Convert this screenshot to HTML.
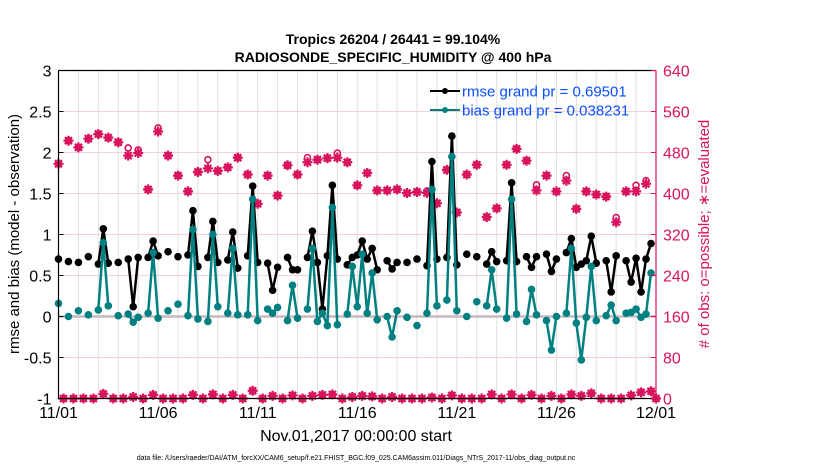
<!DOCTYPE html>
<html><head><meta charset="utf-8"><style>
html,body{margin:0;padding:0;background:#fff;}
svg{display:block;font-family:"Liberation Sans",Arial,sans-serif;}
</style></head><body>
<svg id="chart" width="830" height="470" viewBox="0 0 830 470" xmlns="http://www.w3.org/2000/svg">
<g id="grid"></g>
<g id="marks"></g>
<g id="axes"></g>
<text x="393" y="44" text-anchor="middle" font-size="14" font-weight="bold">Tropics 26204 / 26441 = 99.104%</text>
<text x="393" y="62" text-anchor="middle" font-size="14" font-weight="bold">RADIOSONDE_SPECIFIC_HUMIDITY @ 400 hPa</text>
<text transform="translate(19,234) rotate(-90)" text-anchor="middle" font-size="15">rmse and bias (model - observation)</text>
<text transform="translate(709,234) rotate(-90)" text-anchor="middle" font-size="15" fill="#d9135d"># of obs: o=possible; ∗=evaluated</text>
<text x="356" y="441" text-anchor="middle" font-size="16">Nov.01,2017 00:00:00 start</text>
<text x="356" y="460" text-anchor="middle" font-size="7">data file: /Users/raeder/DAI/ATM_forcXX/CAM6_setup/f.e21.FHIST_BGC.f09_025.CAM6assim.011/Diags_NTrS_2017-11/obs_diag_output.nc</text>
<g id="legend">
<line x1="430" y1="91" x2="460" y2="91" stroke="#000" stroke-width="2"/>
<circle cx="445" cy="91" r="3" fill="#000"/>
<text x="462" y="96.5" font-size="15" fill="#0a50ff">rmse grand pr = 0.69501</text>
<line x1="430" y1="110" x2="460" y2="110" stroke="#008080" stroke-width="2"/>
<circle cx="445" cy="110" r="3" fill="#008080"/>
<text x="462" y="115.5" font-size="15" fill="#0a50ff">bias grand pr = 0.038231</text>
</g>
</svg>
<script>
var n=null;
var yTicks=[-1,-0.5,0,0.5,1,1.5,2,2.5,3];
var yTickLabels=["-1","-0.5","0","0.5","1","1.5","2","2.5","3"];
var y2Ticks=[0,80,160,240,320,400,480,560,640];
var xTickLabels=["11/01","11/06","11/11","11/16","11/21","11/26","12/01"];
var rmse=[.70,n,.67,n,.66,n,.73,n,.64,1.07,.65,n,.66,n,.70,.12,.72,n,.72,.92,.74,n,.79,n,.73,n,.75,1.29,.61,n,.72,1.16,.66,n,.69,1.03,.59,n,.74,1.59,.66,n,.65,.32,.60,n,.72,.57,.57,n,.72,1.04,.66,.09,.74,1.60,.70,n,.63,.72,.75,.92,.70,.83,.57,n,.68,.58,.66,n,.66,n,.70,n,.62,1.89,.70,n,.72,2.20,.63,n,.76,n,.73,n,.64,.79,.67,n,.68,1.63,.67,n,.73,.60,.73,n,.76,.55,.70,n,.78,.95,.60,.64,.68,.98,.65,n,.68,.30,.74,n,.68,.42,.71,.30,.70,.89,n];
var bias=[.16,n,.00,n,.07,n,.02,n,.08,.90,.13,n,.01,n,.03,-.07,-.01,n,.04,.78,-.02,n,.07,n,.15,n,.01,1.06,-.03,n,-.06,1.0,.12,n,.04,.83,.02,n,.02,1.43,-.05,n,.09,.04,.11,n,-.05,.38,-.02,n,.09,.83,-.06,.04,-.11,1.33,-.10,n,.03,.61,.12,.76,.04,.53,-.04,n,0,-.25,.07,n,-.01,n,-.11,n,.04,1.55,.13,n,.20,1.95,.07,n,0,n,.18,n,.13,.57,.09,n,-.02,1.43,.03,n,-.06,.33,.02,n,-.05,-.41,0,n,.04,.83,-.08,-.53,-.01,.61,-.05,n,.01,.14,-.05,n,.04,.05,.09,-.01,.03,.53,n];
var obsEval=[458,0,503,0,490,0,507,0,516,9,509,0,500,0,474,3,479,0,408,7,521,0,474,0,435,0,404,7,442,0,449,8,444,0,451,7,470,0,437,15,380,0,435,5,396,0,455,6,437,0,461,5,466,7,469,8,470,0,461,3,416,5,440,4,406,0,406,3,408,0,401,0,403,0,401,2,381,0,446,6,363,0,437,0,456,0,354,8,371,0,456,8,487,0,464,7,406,0,435,5,404,0,425,8,370,5,404,10,398,0,394,0,344,0,404,6,404,12,419,14,0];
var obsPoss=[458,0,503,0,490,0,507,0,516,9,509,0,500,0,489,3,485,0,408,7,528,0,474,0,435,0,404,7,442,0,466,8,444,0,451,7,470,0,437,15,380,0,435,5,396,0,455,6,437,0,470,5,466,7,469,8,479,0,461,3,416,5,440,4,406,0,406,3,408,0,401,0,403,0,405,2,381,0,446,6,363,0,437,0,456,0,354,8,371,0,456,8,487,0,464,7,417,0,435,5,404,0,435,8,370,5,404,10,398,0,394,0,353,0,404,6,416,12,425,14,0];

var L=58.5,R=656,T=70.5,B=398.5,NS=120;
var NS_="http://www.w3.org/2000/svg";
function x(i){return L+i*(R-L)/NS;}
function y(v){return B-(v+1)*(B-T)/4;}
function y2(c){return B-c*(B-T)/640;}
function mk(tag,attrs,parent){var e=document.createElementNS(NS_,tag);for(var k in attrs)e.setAttribute(k,attrs[k]);parent.appendChild(e);return e;}
var grid=document.getElementById('grid'),marks=document.getElementById('marks'),axes=document.getElementById('axes');
for(var d=1;d<30;d++){var g=mk('line',{x1:x(d*4),x2:x(d*4),y1:T,y2:B,stroke:'#e0e0e0','stroke-width':1},grid);

}
for(var k=1;k<y2Ticks.length-1;k++){var g2=mk('line',{x1:L,x2:R,y1:y2(y2Ticks[k]),y2:y2(y2Ticks[k]),stroke:'#f6cfdc','stroke-width':1},grid);

}
var z=mk('line',{x1:L,x2:R,y1:y(0),y2:y(0),stroke:'#c8b8bf','stroke-width':2.5},grid);


function drawLine(arr,color,name){
  var d='';for(var i=0;i<arr.length;i++){if(arr[i]===null)continue;var cmd=(i>0&&arr[i-1]!==null)?'L':'M';d+=cmd+x(i).toFixed(1)+','+y(arr[i]).toFixed(1);}
  var p=mk('path',{d:d,fill:'none',stroke:color,'stroke-width':2.5,'stroke-linejoin':'round'},marks);
  
  
  for(var j=0;j<arr.length;j++){if(arr[j]===null)continue;
    var c=mk('circle',{cx:x(j),cy:y(arr[j]),r:3.8,fill:color},marks);
    
    }
}
var pk='#d9135d';
for(var i=0;i<obsEval.length;i++){
  if(obsPoss[i]!==null){var o=mk('circle',{cx:x(i),cy:y2(obsPoss[i]),r:3,fill:'none',stroke:pk,'stroke-width':1.6},marks);
  
  }
  if(obsEval[i]!==null){var cx=x(i),cy=y2(obsEval[i]);var s='';
    for(var a=0;a<4;a++){var an=a*Math.PI/4,dx=5*Math.cos(an),dy=5*Math.sin(an);s+='M'+(cx-dx).toFixed(1)+','+(cy-dy).toFixed(1)+'L'+(cx+dx).toFixed(1)+','+(cy+dy).toFixed(1);}
    var st=mk('path',{d:s,stroke:pk,'stroke-width':2.2,fill:'none'},marks);
    
    
    var cc=mk('circle',{cx:cx,cy:cy,r:3,fill:pk},marks);
    
    }
}
drawLine(rmse,'#000','rmse');
drawLine(bias,'#008080','bias');
var ax=mk('path',{d:'M'+L+','+T+'L'+R+','+T+'M'+L+','+T+'L'+L+','+B+'L'+R+','+B,stroke:'#000',fill:'none','stroke-width':1.2},axes);


var rax=mk('line',{x1:R,x2:R,y1:T,y2:B,stroke:pk,'stroke-width':1.2},axes);


for(var k=0;k<yTicks.length;k++){var yy=y(yTicks[k]);
  mk('line',{x1:L,x2:L+5,y1:yy,y2:yy,stroke:'#000'},axes);
  var t=mk('text',{x:L-7,y:yy+6,'text-anchor':'end','font-size':16},axes);t.textContent=yTickLabels[k];
  
  }
for(var k=0;k<y2Ticks.length;k++){var yy=y2(y2Ticks[k]);
  mk('line',{x1:R-5,x2:R,y1:yy,y2:yy,stroke:pk},axes);
  var t=mk('text',{x:R+7,y:yy+6,'font-size':16,fill:pk},axes);t.textContent=String(y2Ticks[k]);
  
  }
for(var k=0;k<xTickLabels.length;k++){var xx=x(k*20);
  var t=mk('text',{x:xx,y:418,'text-anchor':'middle','font-size':16},axes);t.textContent=xTickLabels[k];
  
  }
</script>
</body></html>
